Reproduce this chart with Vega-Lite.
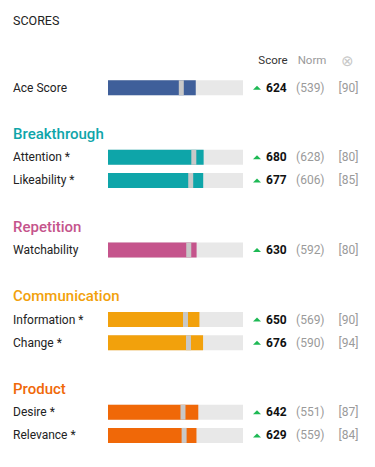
{
  "$schema": "https://vega.github.io/schema/vega-lite/v6.json",
  "padding": {"left": 13, "top": 14, "right": 0, "bottom": 0},
  "bounds": "flush",
  "background": "white",
  "title": {"text": "SCORES", "anchor": "start", "fontSize": 12.5, "font": "Roboto", "fontWeight": "normal", "color": "#222222", "offset": 26},
  "config": {"view": {"stroke": null}, "font": "Roboto", "text": {"font": "Roboto"}},
  "spacing": 0,
  "datasets": {
    "rows": [
      {"row": "Ace Score", "name": "Ace Score", "kind": "item", "cat": "Ace", "score": 624, "norm": 539, "pct": 90, "star": false},
      {"row": "Breakthrough", "name": "Breakthrough", "kind": "group", "cat": "Breakthrough"},
      {"row": "Attention", "name": "Attention", "kind": "item", "cat": "Breakthrough", "score": 680, "norm": 628, "pct": 80, "star": true},
      {"row": "Likeability", "name": "Likeability", "kind": "item", "cat": "Breakthrough", "score": 677, "norm": 606, "pct": 85, "star": true},
      {"row": "Repetition", "name": "Repetition", "kind": "group", "cat": "Repetition"},
      {"row": "Watchability", "name": "Watchability", "kind": "item", "cat": "Repetition", "score": 630, "norm": 592, "pct": 80, "star": false},
      {"row": "Communication", "name": "Communication", "kind": "group", "cat": "Communication"},
      {"row": "Information", "name": "Information", "kind": "item", "cat": "Communication", "score": 650, "norm": 569, "pct": 90, "star": true},
      {"row": "Change", "name": "Change", "kind": "item", "cat": "Communication", "score": 676, "norm": 590, "pct": 94, "star": true},
      {"row": "Product", "name": "Product", "kind": "group", "cat": "Product"},
      {"row": "Desire", "name": "Desire", "kind": "item", "cat": "Product", "score": 642, "norm": 551, "pct": 87, "star": true},
      {"row": "Relevance", "name": "Relevance", "kind": "item", "cat": "Product", "score": 629, "norm": 559, "pct": 84, "star": true}
    ],
    "header": [
      {"row": "hdr", "score": "Score", "norm": "Norm", "pct": "⊗"}
    ]
  },
  "hconcat": [
    {
      "width": 95,
      "height": 394,
      "data": {"name": "rows"},
      "encoding": {
        "y": {"field": "row", "type": "nominal", "axis": null,
          "scale": {"domain": ["hdr", "Ace Score", "sp1", "Breakthrough", "Attention", "Likeability", "sp2", "Repetition", "Watchability", "sp3", "Communication", "Information", "Change", "sp4", "Product", "Desire", "Relevance"], "paddingInner": 0, "paddingOuter": 0}},
        "x": {"datum": 0, "type": "quantitative", "scale": {"domain": [0, 1]}, "axis": null}
      },
      "layer": [
        {
          "transform": [{"filter": "datum.kind === 'group'"}],
          "mark": {"type": "text", "align": "left", "baseline": "middle", "fontSize": 15, "fontWeight": 500},
          "encoding": {
            "text": {"field": "name"},
            "color": {"field": "cat", "type": "nominal", "legend": null,
              "scale": {"domain": ["Ace", "Breakthrough", "Repetition", "Communication", "Product"], "range": ["#3f5f9a", "#0ea5a9", "#c5548c", "#f2a10c", "#f06808"]}}
          }
        },
        {
          "transform": [{"filter": "datum.kind === 'item'"}, {"calculate": "datum.star ? datum.name + ' *' : datum.name", "as": "full"}],
          "mark": {"type": "text", "align": "left", "baseline": "middle", "fontSize": 12, "color": "#222222"},
          "encoding": {"text": {"field": "full"}}
        }
      ]
    },
    {
      "width": 135,
      "height": 394,
      "data": {"name": "rows"},
      "transform": [{"filter": "datum.kind === 'item'"}],
      "encoding": {
        "y": {"field": "row", "type": "nominal", "axis": null,
          "scale": {"domain": ["hdr", "Ace Score", "sp1", "Breakthrough", "Attention", "Likeability", "sp2", "Repetition", "Watchability", "sp3", "Communication", "Information", "Change", "sp4", "Product", "Desire", "Relevance"], "paddingInner": 0, "paddingOuter": 0}}
      },
      "layer": [
        {
          "mark": {"type": "bar", "height": 15, "color": "#e8e8e8"},
          "encoding": {
            "x": {"datum": 960, "type": "quantitative", "scale": {"domain": [0, 960], "nice": false, "zero": true}, "axis": null}
          }
        },
        {
          "mark": {"type": "bar", "height": 15},
          "encoding": {
            "x": {"field": "score", "type": "quantitative", "axis": null},
            "color": {"field": "cat", "type": "nominal", "legend": null,
              "scale": {"domain": ["Ace", "Breakthrough", "Repetition", "Communication", "Product"], "range": ["#3f5f9a", "#0ea5a9", "#c5548c", "#f2a10c", "#f06808"]}}
          }
        },
        {
          "mark": {"type": "tick", "thickness": 5, "size": 15, "xOffset": -2.5, "color": "#c8c8c8", "opacity": 1},
          "encoding": {
            "x": {"field": "norm", "type": "quantitative", "axis": null}
          }
        }
      ]
    },
    {
      "width": 60,
      "height": 394,
      "encoding": {
        "y": {"field": "row", "type": "nominal", "axis": null,
          "scale": {"domain": ["hdr", "Ace Score", "sp1", "Breakthrough", "Attention", "Likeability", "sp2", "Repetition", "Watchability", "sp3", "Communication", "Information", "Change", "sp4", "Product", "Desire", "Relevance"], "paddingInner": 0, "paddingOuter": 0}}
      },
      "layer": [
        {
          "data": {"name": "header"},
          "mark": {"type": "text", "baseline": "middle", "fontSize": 11.5, "color": "#333333", "dy": -4},
          "encoding": {"text": {"field": "score"}}
        },
        {
          "data": {"name": "rows"},
          "transform": [{"filter": "datum.kind === 'item'"}],
          "mark": {"type": "point", "shape": "M-1,0.5L0,-0.5L1,0.5Z", "size": 64, "filled": true, "color": "#1db954", "opacity": 1, "xOffset": -16},
          "encoding": {}
        },
        {
          "data": {"name": "rows"},
          "transform": [{"filter": "datum.kind === 'item'"}],
          "mark": {"type": "text", "align": "left", "baseline": "middle", "fontSize": 12, "fontWeight": "bold", "color": "#111111", "dx": -7},
          "encoding": {"text": {"field": "score"}}
        }
      ]
    },
    {
      "width": 18,
      "height": 394,
      "encoding": {
        "y": {"field": "row", "type": "nominal", "axis": null,
          "scale": {"domain": ["hdr", "Ace Score", "sp1", "Breakthrough", "Attention", "Likeability", "sp2", "Repetition", "Watchability", "sp3", "Communication", "Information", "Change", "sp4", "Product", "Desire", "Relevance"], "paddingInner": 0, "paddingOuter": 0}}
      },
      "layer": [
        {
          "data": {"name": "header"},
          "mark": {"type": "text", "baseline": "middle", "fontSize": 11.5, "color": "#9a9a9a", "dy": -4},
          "encoding": {"text": {"field": "norm"}}
        },
        {
          "data": {"name": "rows"},
          "transform": [{"filter": "datum.kind === 'item'"}, {"calculate": "'(' + datum.norm + ')'", "as": "ntext"}],
          "mark": {"type": "text", "baseline": "middle", "fontSize": 12, "color": "#9a9a9a", "dx": -1.7},
          "encoding": {"text": {"field": "ntext"}}
        }
      ]
    },
    {
      "width": 55,
      "height": 394,
      "encoding": {
        "y": {"field": "row", "type": "nominal", "axis": null,
          "scale": {"domain": ["hdr", "Ace Score", "sp1", "Breakthrough", "Attention", "Likeability", "sp2", "Repetition", "Watchability", "sp3", "Communication", "Information", "Change", "sp4", "Product", "Desire", "Relevance"], "paddingInner": 0, "paddingOuter": 0}}
      },
      "layer": [
        {
          "data": {"name": "header"},
          "mark": {"type": "text", "baseline": "middle", "fontSize": 15, "color": "#c8c8c8", "dy": -4, "dx": -1.5},
          "encoding": {"text": {"field": "pct"}}
        },
        {
          "data": {"name": "rows"},
          "transform": [{"filter": "datum.kind === 'item'"}, {"calculate": "'[' + datum.pct + ']'", "as": "ptext"}],
          "mark": {"type": "text", "baseline": "middle", "fontSize": 12, "color": "#9a9a9a"},
          "encoding": {"text": {"field": "ptext"}}
        }
      ]
    }
  ]
}
